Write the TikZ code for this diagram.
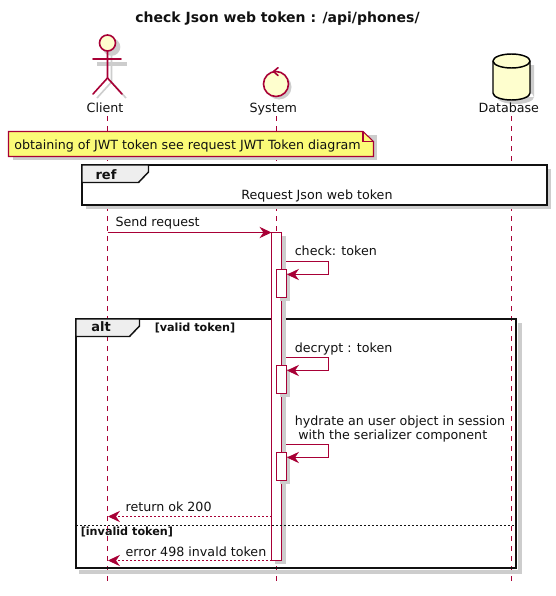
\documentclass[tikz,border=0pt]{standalone}
\usepackage{fontspec}
\setmainfont{DejaVu Sans}
\usetikzlibrary{arrows.meta}
\definecolor{wine}{HTML}{A80036}
\definecolor{cream}{HTML}{FEFECE}
\definecolor{notey}{HTML}{FBFB77}
\definecolor{tabg}{HTML}{EEEEEE}
\definecolor{ink}{HTML}{111111}
\definecolor{dropg}{HTML}{CDCDCD}
\def\u{0.75pt}
\tikzset{
  life/.style={draw=wine, line width=0.75pt, dash pattern=on 3.75pt off 3.75pt},
  msg/.style={draw=wine, line width=0.75pt, -{Stealth[length=9pt,width=8.5pt,inset=3pt,fill=wine]}},
  ret/.style={msg, dash pattern=on 1.5pt off 1.5pt},
  icon/.style={draw=wine, fill=cream, line width=1.2pt},
  limb/.style={draw=wine, line width=1.2pt, line cap=round},
  soft/.style={draw=dropg, line width=1.2pt},
  bar/.style={draw=wine, fill=white, line width=0.75pt, minimum width=10*\u, inner sep=0pt, outer sep=0pt, anchor=north},
  frm/.style={draw=ink, line width=1.5pt},
  tab/.style={draw=ink, fill=tabg, line width=1.1pt},
  lab/.style={text=ink, font=\fontsize{9.5pt}{11pt}\selectfont, inner sep=0pt, anchor=base west},
  labc/.style={lab, anchor=base},
  labb/.style={lab, font=\fontsize{8.4pt}{10pt}\selectfont\bfseries},
  labt/.style={lab, font=\fontsize{9.75pt}{11pt}\selectfont\bfseries},
}
\begin{document}
\begin{tikzpicture}[x=\u,y=-\u]
  \useasboundingbox (0,0) rectangle (556,596);
  \fill[white] (0,0) rectangle (556,596);

  \node[labt,anchor=base,font=\fontsize{10.5pt}{12pt}\selectfont\bfseries] (title) at (277.5,22.7) {check Json web token : /api/phones/};

  % lifelines
  \coordinate (cliT) at (107.5,116);
  \coordinate (cliE) at (107.5,582);
  \coordinate (sysT) at (276.5,116);
  \coordinate (sysE) at (276.5,582);
  \coordinate (dbsT) at (511.5,116);
  \coordinate (dbsE) at (511.5,582);
  \draw[life] (cliT)--(cliE);
  \draw[life] (sysT)--(sysE);
  \draw[life] (dbsT)--(dbsE);

  % client
  \begin{scope}[shift={(4,4)}]
    \draw[soft,fill=dropg] (107.5,43) circle (8);
    \draw[soft,line width=3pt] (93,60)--(123,60);
    \draw[soft] (107.5,51)--(107.5,78)--(93,94);
    \draw[soft] (107.5,78)--(122,94);
  \end{scope}
  \draw[limb] (107.5,51)--(107.5,78)--(93,94);
  \draw[limb] (107.5,78)--(122,94);
  \draw[limb] (93,59)--(121,59);
  \draw[icon] (107.5,43) circle (8);
  \node[labc] (client) at (105,112.7) {Client};

  % system
  \fill[dropg] (279,87) circle (12.5);
  \draw[icon] (276,84) circle (12.5);
  \draw[limb] (278,67.7)--(273.5,71.5)--(278,75.5);
  \node[labc] (system) at (273.3,112.7) {System};

  % database
  \fill[dropg] (497,65) rectangle (534,97) (515.5,97) ellipse (18.5 and 7);
  \draw[icon,line width=1.1pt,draw=black] (493,61) arc[start angle=180,end angle=360,x radius=18.5,y radius=7]
    -- (530,93) arc[start angle=0,end angle=180,x radius=18.5,y radius=7] -- cycle;
  \draw[line width=1.1pt,black] (493,61) arc[start angle=180,end angle=0,x radius=18.5,y radius=7];
  \node[labc] (database) at (508.8,112.7) {Database};

  % note
  \fill[dropg] (12.5,135) rectangle (377,160);
  \draw[draw=wine,fill=notey,line width=0.8pt] (8.5,131.5)--(363,131.5)--(373.5,141.5)--(373.5,156.5)--(8.5,156.5)--cycle;
  \draw[draw=wine,line width=0.8pt] (363,131.5)--(363,141.5)--(373.5,141.5);
  \node[lab] (obtain) at (14,149) {obtaining of JWT token see request JWT Token diagram};

  % ref
  \fill[dropg] (86,169) rectangle (551,209);
  \draw[frm,fill=white] (82,165) rectangle (547,205);
  \draw[tab] (82,165)--(148.5,165)--(148.5,172)--(138.5,182.5)--(82,182.5)--cycle;
  \node[labt] (reftag) at (95.3,179.3) {ref};
  \node[lab] (reftxt) at (241,199) {Request Json web token};

  % alt frame
  \draw[dropg,line width=3pt] (520,323)--(520,571.5)--(79,571.5);
  \draw[frm] (76,319) rectangle (516,568);

  % main bar
  \fill[dropg] (275,236) rectangle (285.5,564);
  \node[bar,minimum height=328*\u] (sysbar) at (276.5,232.5) {};
  \coordinate (sendA) at (107.5,232.5);
  \draw[msg] (sendA)--(sysbar.north west);
  \node[lab] (sendL) at (115.3,226.7) {Send request};

  % check
  \fill[dropg] (280,273) rectangle (290,301);
  \node[bar,minimum height=28*\u] (chkbar) at (281.5,269.5) {};
  \coordinate (chkA) at (286,261.5);
  \coordinate (chkB) at (328.5,261.5);
  \coordinate (chkC) at (328.5,274.5);
  \coordinate (chkD) at (287,274.5);
  \draw[msg] (chkA)--(chkB)--(chkC)--(chkD);
  \node[lab] (chkL) at (294.5,255.7) {check: token};

  % alt tab
  \draw[tab] (76,319)--(139.5,319)--(139.5,326)--(129.5,336.5)--(76,336.5)--cycle;
  \node[labt] (alttag) at (91,331.7) {alt};
  \node[labb] (altcond) at (154.5,331) {[valid token]};

  % decrypt
  \fill[dropg] (280,369) rectangle (290,397);
  \node[bar,minimum height=28*\u] (decbar) at (281.5,365.5) {};
  \coordinate (decA) at (286,357.5);
  \coordinate (decB) at (328.5,357.5);
  \coordinate (decC) at (328.5,370.5);
  \coordinate (decD) at (287,370.5);
  \draw[msg] (decA)--(decB)--(decC)--(decD);
  \node[lab] (decL) at (294.5,352) {decrypt : token};

  % hydrate
  \fill[dropg] (280,456) rectangle (290,484);
  \node[bar,minimum height=28*\u] (hydbar) at (281.5,452.5) {};
  \coordinate (hydA) at (286,444.5);
  \coordinate (hydB) at (328.5,444.5);
  \coordinate (hydC) at (328.5,457.5);
  \coordinate (hydD) at (287,457.5);
  \draw[msg] (hydA)--(hydB)--(hydC)--(hydD);
  \node[lab] (hydL) at (294.5,425) {hydrate an user object in session};
  \node[lab] (hydM) at (298,439.7) {with the serializer component};

  % return
  \coordinate (okA) at (271.5,516.5);
  \coordinate (okB) at (108,516.5);
  \draw[ret] (okA)--(okB);
  \node[lab] (okL) at (125.3,511.7) {return ok 200};

  % else
  \coordinate (elsA) at (76,525.5);
  \coordinate (elsB) at (516,525.5);
  \draw[ink,line width=0.75pt,dash pattern=on 1.5pt off 1.5pt] (elsA)--(elsB);
  \node[labb] (elsL) at (80.5,535.7) {[invalid token]};

  % error
  \coordinate (errB) at (108,560.5);
  \draw[ret] (sysbar.south west)--(errB);
  \node[lab] (errL) at (125.3,556) {error 498 invald token};
\end{tikzpicture}
\end{document}
